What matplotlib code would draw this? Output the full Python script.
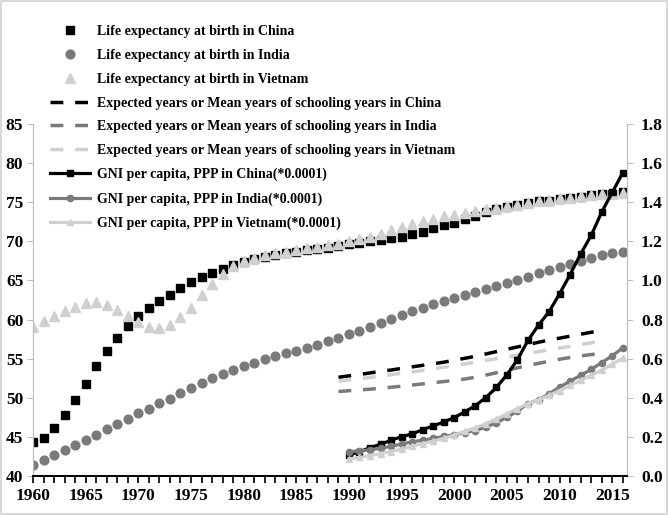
import matplotlib
matplotlib.use("Agg")
import matplotlib.pyplot as plt
from matplotlib.ticker import MultipleLocator, FormatStrFormatter

plt.rcParams['font.family'] = ['Liberation Serif', 'DejaVu Serif']
plt.rcParams['font.weight'] = 'bold'

# life expectancy 1960-2016
years_le = list(range(1960, 2017))
le_china = [44.3, 44.9, 46.2, 47.8, 49.7, 51.8, 54.0, 56.0, 57.7, 59.2,
            60.4, 61.5, 62.4, 63.2, 64.0, 64.8, 65.4, 66.0, 66.5, 67.0,
            67.4, 67.7, 68.0, 68.2, 68.5, 68.7, 68.9, 69.0, 69.2, 69.4,
            69.7, 69.8, 70.0, 70.2, 70.4, 70.6, 70.9, 71.2, 71.7, 72.1,
            72.4, 72.8, 73.3, 73.8, 74.1, 74.4, 74.7, 74.9, 75.1, 75.2,
            75.4, 75.6, 75.7, 75.9, 76.0, 76.1, 76.3]
le_india = [41.4, 42.0, 42.7, 43.3, 44.0, 44.6, 45.2, 46.0, 46.6, 47.3,
            48.0, 48.6, 49.3, 49.9, 50.6, 51.3, 51.9, 52.5, 53.0, 53.6,
            54.1, 54.5, 54.9, 55.3, 55.7, 56.0, 56.4, 56.8, 57.3, 57.7,
            58.2, 58.6, 59.1, 59.6, 60.1, 60.6, 61.1, 61.5, 62.0, 62.4,
            62.8, 63.2, 63.5, 63.9, 64.3, 64.7, 65.1, 65.5, 65.9, 66.3,
            66.7, 67.1, 67.5, 67.9, 68.2, 68.5, 68.7]
le_vietnam = [59.1, 59.8, 60.5, 61.1, 61.6, 62.1, 62.2, 61.9, 61.2, 60.4,
              59.7, 59.1, 58.9, 59.3, 60.3, 61.5, 63.1, 64.6, 65.8, 66.9,
              67.5, 67.9, 68.2, 68.5, 68.7, 68.9, 69.1, 69.3, 69.5, 69.7,
              70.0, 70.3, 70.6, 71.0, 71.4, 71.8, 72.2, 72.6, 72.9, 73.2,
              73.4, 73.6, 73.9, 74.1, 74.3, 74.5, 74.7, 74.9, 75.1, 75.3,
              75.5, 75.6, 75.8, 75.9, 76.0, 76.1, 76.2]

# schooling years (scaled), 1989-2014
years_sch = list(range(1989, 2015))
sch_china = [0.505, 0.512, 0.519, 0.527, 0.535, 0.542, 0.550, 0.558, 0.566, 0.574,
             0.582, 0.592, 0.602, 0.612, 0.624, 0.636, 0.648, 0.660, 0.672, 0.684,
             0.695, 0.705, 0.715, 0.725, 0.735, 0.742]
sch_india = [0.432, 0.436, 0.440, 0.444, 0.449, 0.454, 0.459, 0.465, 0.471, 0.477,
             0.483, 0.489, 0.496, 0.505, 0.516, 0.528, 0.540, 0.553, 0.565, 0.576,
             0.587, 0.597, 0.606, 0.614, 0.621, 0.627]
sch_vietnam = [0.485, 0.491, 0.497, 0.504, 0.511, 0.518, 0.525, 0.532, 0.540, 0.548,
               0.556, 0.564, 0.573, 0.582, 0.591, 0.600, 0.609, 0.618, 0.627, 0.636,
               0.645, 0.654, 0.663, 0.672, 0.681, 0.690]

# GNI per capita PPP * 0.0001, 1990-2016
years_gni = list(range(1990, 2017))
gni_china = [0.107, 0.124, 0.145, 0.162, 0.183, 0.201, 0.215, 0.237, 0.256, 0.276,
             0.299, 0.328, 0.360, 0.401, 0.453, 0.518, 0.595, 0.693, 0.772, 0.840,
             0.932, 1.030, 1.136, 1.230, 1.350, 1.450, 1.551]
gni_india = [0.125, 0.128, 0.134, 0.141, 0.152, 0.163, 0.175, 0.183, 0.192, 0.203,
             0.210, 0.222, 0.232, 0.250, 0.272, 0.300, 0.332, 0.370, 0.390, 0.420,
             0.455, 0.485, 0.515, 0.545, 0.580, 0.615, 0.655]
gni_vietnam = [0.088, 0.095, 0.104, 0.114, 0.125, 0.138, 0.152, 0.166, 0.178, 0.193,
               0.210, 0.228, 0.246, 0.268, 0.292, 0.318, 0.345, 0.370, 0.390, 0.412,
               0.437, 0.463, 0.490, 0.515, 0.542, 0.572, 0.602]

BLACK = '#000000'
GREY = '#7a7a7a'
LIGHT = '#d0d0d0'

fig = plt.figure(figsize=(6.68, 5.15), dpi=100)
fig.patch.set_edgecolor('#d9d9d9')
fig.patch.set_linewidth(1.5)

ax = fig.add_axes([33/668, 39/515, 594/668, 352/515])
ax2 = ax.twinx()

ax.plot(years_le, le_china, 's', color=BLACK, ms=6.3, ls='none',
        label='Life expectancy at birth in China')
ax.plot(years_le, le_india, 'o', color=GREY, ms=6.3, ls='none',
        label='Life expectancy at birth in India')
ax.plot(years_le, le_vietnam, '^', color=LIGHT, ms=6.5, ls='none',
        label='Life expectancy at birth in Vietnam')

dash = (3.7, 3.4)
ax2.plot(years_sch, sch_china, color=BLACK, lw=2.5, dashes=dash,
         label='Expected years or Mean years of schooling years in China')
ax2.plot(years_sch, sch_india, color=GREY, lw=2.5, dashes=dash,
         label='Expected years or Mean years of schooling years in India')
ax2.plot(years_sch, sch_vietnam, color=LIGHT, lw=2.5, dashes=dash,
         label='Expected years or Mean years of schooling years in Vietnam')

ax2.plot(years_gni, gni_china, color=BLACK, lw=2.3, marker='s', ms=5,
         label='GNI per capita, PPP in China(*0.0001)')
ax2.plot(years_gni, gni_india, color=GREY, lw=2.3, marker='o', ms=4.5,
         label='GNI per capita, PPP in India(*0.0001)')
ax2.plot(years_gni, gni_vietnam, color=LIGHT, lw=2.3, marker='^', ms=4.5,
         label='GNI per capita, PPP in Vietnam(*0.0001)')

ax.set_xlim(1960, 2016.4)
ax.set_ylim(40, 85)
ax2.set_ylim(0, 1.8)

ax.xaxis.set_major_locator(MultipleLocator(5))
ax.xaxis.set_minor_locator(MultipleLocator(1))
ax.yaxis.set_major_locator(MultipleLocator(5))
ax2.yaxis.set_major_locator(MultipleLocator(0.2))
ax2.yaxis.set_major_formatter(FormatStrFormatter('%.1f'))

for a in (ax, ax2):
    a.spines['top'].set_visible(False)
    a.spines['left'].set_color('#bfbfbf')
    a.spines['right'].set_color('#bfbfbf')
    a.spines['bottom'].set_color(BLACK)
    a.spines['bottom'].set_linewidth(1.3)

ax.tick_params(axis='x', which='both', direction='out', length=5, width=1.2,
               color=BLACK, labelsize=12.5, pad=4)
ax.tick_params(axis='y', direction='out', length=4, color='#bfbfbf',
               labelsize=12.5, pad=3)
ax2.tick_params(axis='y', direction='out', length=4, color='#bfbfbf',
                labelsize=12.5, pad=6)
for lbl in ax.get_xticklabels() + ax.get_yticklabels() + ax2.get_yticklabels():
    lbl.set_fontweight('bold')

h1, l1 = ax.get_legend_handles_labels()
h2, l2 = ax2.get_legend_handles_labels()
fig.legend(h1 + h2, l1 + l2, loc='upper left', bbox_to_anchor=(50/668, 1 - 25/515),
           frameon=False, prop={'family': 'Liberation Serif', 'weight': 'bold', 'size': 10},
           handlelength=2.9, handletextpad=0.5, labelspacing=0.78,
           borderpad=0, borderaxespad=0)

fig.savefig('out.png', dpi=100)
